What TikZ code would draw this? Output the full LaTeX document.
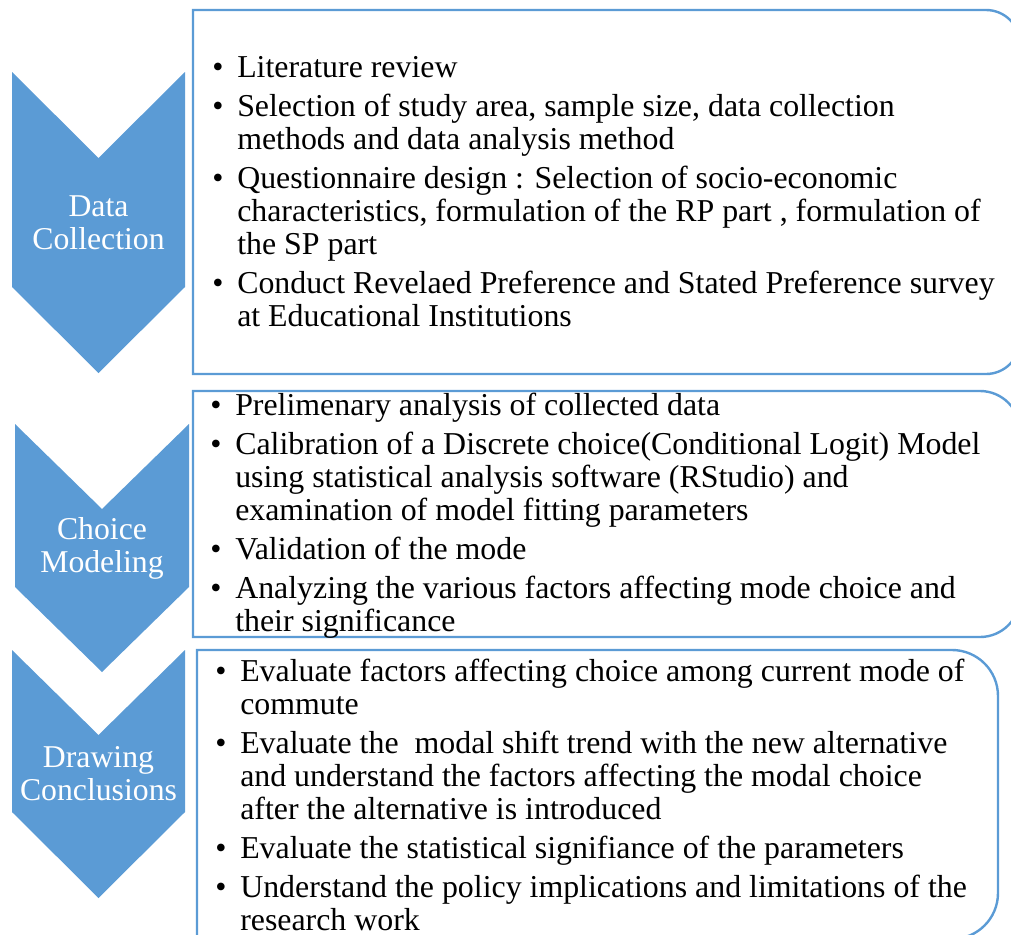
\documentclass[tikz,border=0pt]{standalone}
\usepackage{fontspec}
\setmainfont{Liberation Serif}
\definecolor{chevblue}{HTML}{5B9BD5}
\newcommand{\bul}{\makebox[18.75pt][l]{\textbullet}}
\newcommand{\cont}{\hspace*{18.75pt}}
\begin{document}
\begin{tikzpicture}[x=0.75pt,y=-0.75pt,
	chev/.style={fill=chevblue},
	stage/.style={text=white,align=center,font=\fontsize{23.8}{24.75}\selectfont},
	listbox/.style={draw=chevblue,line width=1.8pt},
	tasks/.style={anchor=west,align=left,inner sep=0pt,font=\fontsize{23.9}{24.75}\selectfont}]
	\useasboundingbox (0,0) rectangle (1011,935);
	% chevrons
	\fill[chev] (12,72) -- (98.5,158) -- (185,72) -- (185,287) -- (98.5,373) -- (12,287) -- cycle;
	\fill[chev] (15,424) -- (102,509) -- (189,424) -- (189,587) -- (102,672) -- (15,587) -- cycle;
	\fill[chev] (12,650) -- (98.5,735) -- (185,650) -- (185,812) -- (98.5,898) -- (12,812) -- cycle;
	\node[stage] (datacoll) at (98.5,223) {Data\\Collection};
	\node[stage] (choicemod) at (102,548) {Choice\\Modeling};
	\node[stage] (drawconc) at (98.5,774) {Drawing\\Conclusions};
	% boxes, rounded on the right only
	\draw[listbox] (193,374) -- (193,10) -- (986,10) arc[start angle=90,end angle=0,radius=25.5pt] -- (1020,340) arc[start angle=0,end angle=-90,radius=25.5pt] -- cycle;
	\draw[listbox] (193,637) -- (193,391) -- (980,391) arc[start angle=90,end angle=0,radius=30pt] -- (1020,597) arc[start angle=0,end angle=-90,radius=30pt] -- cycle;
	\draw[listbox] (197,939) -- (197,650) -- (952,650) arc[start angle=90,end angle=0,radius=34.5pt] -- (998,893) arc[start angle=0,end angle=-90,radius=34.5pt] -- cycle;
	% task lists
	\node[tasks] (datalist) at (212,192) {\bul Literature review\\[4.5pt]
		\bul Selection of study area, sample size, data collection\\
		\cont methods and data analysis method\\[4.5pt]
		\bul Questionnaire design : Selection of socio-economic\\
		\cont characteristics, formulation of the RP part , formulation of\\
		\cont the SP part\\[4.5pt]
		\bul Conduct Revelaed Preference and Stated Preference survey\\
		\cont at Educational Institutions};
	\node[tasks] (choicelist) at (210,516) {\bul Prelimenary analysis of collected data\\[4.5pt]
		\bul Calibration of a Discrete choice(Conditional Logit) Model\\
		\cont using statistical analysis software (RStudio) and\\
		\cont examination of model fitting parameters\\[4.5pt]
		\bul Validation of the mode\\[4.5pt]
		\bul Analyzing the various factors affecting mode choice and\\
		\cont their significance};
	\node[tasks] (conclist) at (215,795) {\bul Evaluate factors affecting choice among current mode of\\
		\cont commute\\[4.5pt]
		\bul Evaluate the\ \ modal shift trend with the new alternative\\
		\cont and understand the factors affecting the modal choice\\
		\cont after the alternative is introduced\\[4.5pt]
		\bul Evaluate the statistical signifiance of the parameters\\[4.5pt]
		\bul Understand the policy implications and limitations of the\\
		\cont research work};
\end{tikzpicture}
\end{document}
